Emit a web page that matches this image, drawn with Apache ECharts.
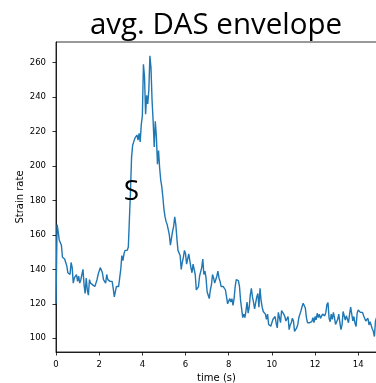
<!DOCTYPE html>
<html>
<head>
<meta charset="utf-8">
<script src="https://cdn.jsdelivr.net/npm/echarts@6/dist/echarts.min.js"></script>
<style>
  html, body { margin: 0; padding: 0; background: #fff; }
  #chart { width: 376px; height: 383px; }
</style>
</head>
<body>
<div id="chart"></div>
<script>
// Averaged DAS envelope, sampled every 0.05 s
const dt = 0.05;
const strain = [
  // 0.00 - 3.40 s
  120, 166, 162, 157, 157, 154, 147, 148, 146, 144,
  142, 138, 139, 137, 144, 141, 132, 135, 134, 137,
  133, 136, 132, 134, 137, 140, 131, 126, 135, 128,
  125, 134, 132, 133, 131, 132, 130, 132, 134, 137,
  138, 141, 140, 138, 134, 135, 132, 137, 134, 133,
  133, 132, 133, 129, 124, 127, 130, 131, 130, 135,
  140, 148, 145, 149, 151, 150, 151, 153, 152,
  // 3.45 - 4.95 s
  185, 205, 212, 214, 216, 217, 218, 215, 219, 214,
  224, 229, 259, 252, 230, 241, 236, 244, 264, 257,
  238, 226, 211, 226, 217, 201, 209, 199, 192, 188,
  182,
  // 5.00 - 7.95 s
  175, 170.6, 167.7, 166, 163, 160, 154, 155, 162, 165,
  170.5, 166, 158, 151, 152, 148, 140, 144, 147, 151,
  149, 143, 144, 149, 148, 141, 138, 143, 144, 137,
  128, 127, 130, 136, 137, 141, 146, 137, 139, 135,
  127, 125, 123, 128, 131, 137, 135, 132, 134, 136,
  139, 135, 133, 130, 130, 130, 130.5, 128, 124, 120,
  // 8.00 - 11.25 s
  121, 123, 121, 123, 119, 123, 130, 134, 134, 133.5,
  130, 122, 117, 112, 114, 112, 116, 121, 114.5, 118,
  125, 129, 124, 121, 117, 117.5, 124, 126, 118, 129,
  122, 118, 115.5, 115, 114, 111, 114, 108, 108, 107,
  107, 111, 110.6, 112.6, 108.7, 106, 115, 112, 109, 116,
  116, 114, 112.6, 110, 110.5, 112.6, 105, 107.7, 109, 111.6,
  110, 104, 105, 106, 108, 112,
  // 11.30 - 14.85 s
  114, 116, 118.4, 120.3, 119.9, 117.5, 112, 109, 108, 109,
  110, 109.6, 112, 109, 112.6, 110.6, 114.5, 112, 114, 111.5,
  112, 114, 114, 113, 115, 119.5, 120.7, 111.6, 109.6, 114,
  111, 115, 112, 108, 108.5, 111, 114, 109, 105, 107.7,
  115.5, 116.4, 110.6, 113, 112, 109, 114, 118, 114, 110,
  112.6, 108.7, 106.8, 114.5, 116.4, 117.4, 115, 115.5, 115, 113,
  113.5, 110, 109, 111.6, 107.7, 109.6, 110.6, 105.5, 104, 101,
  110, 112
];

const xTicks = [0, 2, 4, 6, 8, 10, 12, 14];
const yTicks = [100, 120, 140, 160, 180, 200, 220, 240, 260];

// "S" onset marker
const sMark = { label: 'S', time: 3.49, value: 185 };

const points = strain.map((v, i) => [+(i * dt).toFixed(2), v]);

const tickFont = { fontFamily: 'DejaVu Sans', fontSize: 8.5, color: '#000' };
const nameFont = { fontFamily: 'DejaVu Sans', fontSize: 10, color: '#000' };

const chart = echarts.init(document.getElementById('chart'), null, { renderer: 'canvas' });
chart.setOption({
  animation: false,
  backgroundColor: '#fff',
  title: {
    text: 'avg. DAS envelope',
    left: 216,
    top: 11,
    textAlign: 'center',
    padding: 0,
    textStyle: { fontFamily: 'Open Sans', fontSize: 29.5, fontWeight: 'normal', color: '#000' }
  },
  grid: {
    left: 56, top: 42, right: -1, bottom: 31,
    outerBoundsMode: 'none',
    show: true, borderColor: '#000', borderWidth: 0.8, backgroundColor: 'transparent'
  },
  xAxis: {
    type: 'value',
    min: 0, max: 14.87,
    name: 'time (s)',
    nameLocation: 'middle',
    nameGap: 21,
    nameMoveOverlap: false,
    nameTextStyle: nameFont,
    axisLine: { show: true, lineStyle: { color: '#000', width: 0.8 } },
    axisTick: { show: true, length: 3.5, lineStyle: { color: '#000', width: 0.8 }, customValues: xTicks },
    axisLabel: Object.assign({ margin: 8, customValues: xTicks }, tickFont),
    splitLine: { show: false }
  },
  yAxis: {
    type: 'value',
    min: 92, max: 272,
    name: 'Strain rate',
    nameLocation: 'middle',
    nameGap: 31,
    nameMoveOverlap: false,
    nameTextStyle: nameFont,
    axisLine: { show: true, lineStyle: { color: '#000', width: 0.8 } },
    axisTick: { show: true, length: 3.5, lineStyle: { color: '#000', width: 0.8 }, customValues: yTicks },
    axisLabel: Object.assign({ margin: 10, customValues: yTicks }, tickFont),
    splitLine: { show: false }
  },
  series: [{
    type: 'line',
    data: points,
    showSymbol: false,
    symbol: 'none',
    lineStyle: { color: '#1f77b4', width: 1.4 },
    markPoint: {
      symbol: 'circle',
      symbolSize: 0,
      label: {
        show: true, position: 'inside', formatter: sMark.label,
        fontFamily: 'Open Sans', fontSize: 28, color: '#000'
      },
      data: [{ coord: [sMark.time, sMark.value] }]
    }
  }]
});
</script>
</body>
</html>
